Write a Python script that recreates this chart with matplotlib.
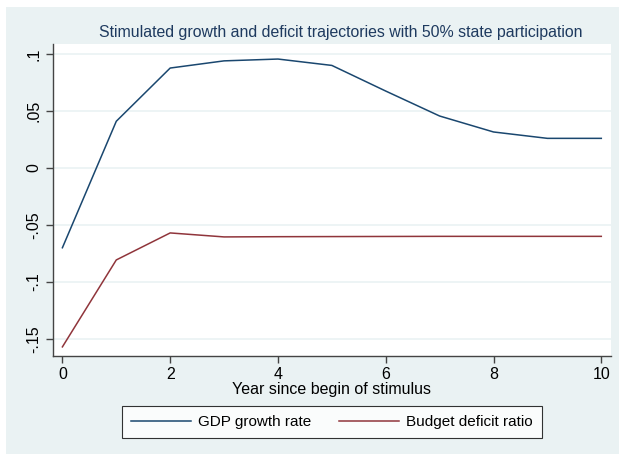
import matplotlib.pyplot as plt
from matplotlib.patches import Rectangle

plt.rcParams['font.family'] = ['Liberation Sans', 'DejaVu Sans']

years = [0, 1, 2, 3, 4, 5, 6, 7, 8, 9, 10]
gdp_growth = [-0.070, 0.041, 0.0877, 0.094, 0.0956, 0.090, 0.0675, 0.0456, 0.0316, 0.026, 0.026]
deficit_ratio = [-0.157, -0.0807, -0.057, -0.0605, -0.0603, -0.0602, -0.0601, -0.0600, -0.0600, -0.0600, -0.0600]

bg = '#eaf2f3'
W, H = 619, 454
fig = plt.figure(figsize=(W / 100, H / 100), dpi=100, facecolor='white')
fig.patches.append(Rectangle((6 / W, 0), 1, 1 - 7 / H, transform=fig.transFigure,
                             facecolor=bg, edgecolor='none', zorder=-10))

ax = fig.add_axes([52.7 / W, 1 - 356 / H, (611 - 52.7) / W, (356 - 44) / H])
ax.set_facecolor('white')
ax.plot(years, gdp_growth, color='#1a476f', lw=1.1, label='GDP growth rate')
ax.plot(years, deficit_ratio, color='#90353b', lw=1.1, label='Budget deficit ratio')

ax.set_xlim(-0.18, 10.18)
ax.set_ylim(-0.165, 0.1088)
ax.set_xticks([0, 2, 4, 6, 8, 10])
yt = [-0.15, -0.1, -0.05, 0, 0.05, 0.1]
ax.set_yticks(yt)
ax.set_yticklabels(['-.15', '-.1', '-.05', '0', '.05', '.1'], rotation=90, va='center')
ax.grid(axis='y', color=bg, lw=1.2)
ax.set_axisbelow(True)
for s in ['top', 'right']:
    ax.spines[s].set_visible(False)
for s in ['left', 'bottom']:
    ax.spines[s].set_color('#444444')
    ax.spines[s].set_linewidth(1.0)
ax.tick_params(length=5, width=1, color='#444444', labelsize=11.5, pad=3)
ax.set_xlabel('Year since begin of stimulus', fontsize=11.5, labelpad=0)
ax.set_title('Stimulated growth and deficit trajectories with 50% state participation',
             fontsize=11.4, color='#1e3a5f', pad=5, x=0.516)

leg = fig.legend(loc='center', bbox_to_anchor=(332 / W, 1 - 422 / H), ncol=2,
                 fontsize=11, frameon=True, fancybox=False, edgecolor='black',
                 handlelength=3.9, handletextpad=0.5, columnspacing=1.8, borderpad=0.6)
leg.get_frame().set_linewidth(0.8)

fig.savefig('out.png', dpi=100, facecolor=fig.get_facecolor())
